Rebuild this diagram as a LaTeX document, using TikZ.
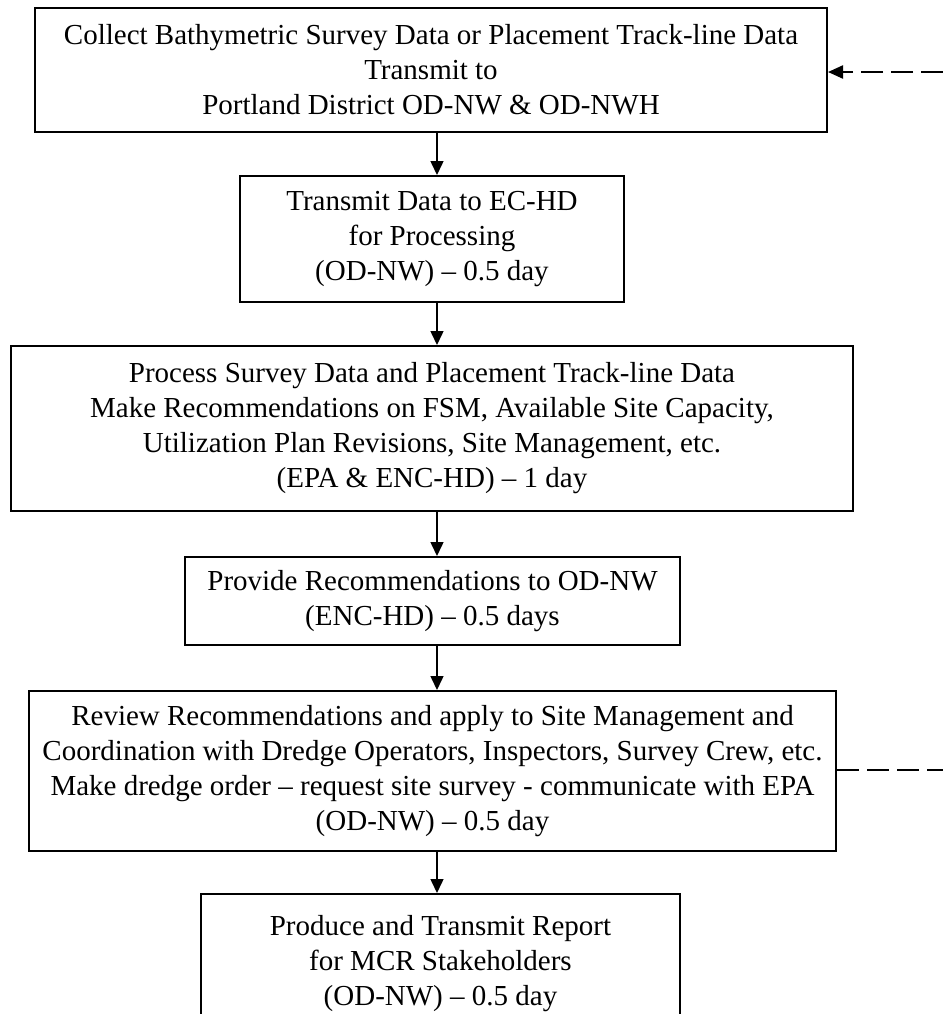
\documentclass[tikz,border=0pt]{standalone}
\usepackage{fontspec}
\setmainfont{Liberation Serif}
\usetikzlibrary{arrows.meta}

\tikzset{
  stepbox/.style={draw,line width=1pt,align=center,inner sep=0pt,
    font=\fontsize{14.5}{17.5}\selectfont},
  flow/.style={line width=0.75pt,-{Triangle[length=7pt,width=6.5pt]}},
  feedback/.style={line width=1.1pt,dash pattern=on 11pt off 4pt}
}

\begin{document}
\begin{tikzpicture}[x=0.5pt,y=-0.5pt]
\useasboundingbox (0,0) rectangle (943,1014);
\node[stepbox,minimum width=396pt,minimum height=62pt] (collect) at (431,70)
  {Collect Bathymetric Survey Data or Placement Track-line Data\\Transmit to\\Portland District OD-NW \& OD-NWH};
\node[stepbox,minimum width=192pt,minimum height=63pt] (transmit) at (432,239)
  {Transmit Data to EC-HD\\for Processing\\(OD-NW) – 0.5 day};
\node[stepbox,minimum width=421pt,minimum height=82.5pt] (process) at (432,428.5)
  {Process Survey Data and Placement Track-line Data\\Make Recommendations on FSM, Available Site Capacity,\\Utilization Plan Revisions, Site Management, etc.\\(EPA \& ENC-HD) – 1 day};
\node[stepbox,minimum width=247.5pt,minimum height=44pt] (provide) at (432.5,601)
  {Provide Recommendations to OD-NW\\(ENC-HD) – 0.5 days};
\node[stepbox,minimum width=403.5pt,minimum height=80pt] (review) at (432.5,771)
  {Review Recommendations and apply to Site Management and\\Coordination with Dredge Operators, Inspectors, Survey Crew, etc.\\Make dredge order – request site survey - communicate with EPA\\(OD-NW) – 0.5 day};
\node[stepbox,minimum width=239.5pt,minimum height=70pt] (report) at (440.5,964)
  {Produce and Transmit Report\\for MCR Stakeholders\\(OD-NW) – 0.5 day};
\coordinate (ax) at (437,0);
\draw[flow] (collect.south -| ax) -- (transmit.north -| ax);
\draw[flow] (transmit.south -| ax) -- (process.north -| ax);
\draw[flow] (process.south -| ax) -- (provide.north -| ax);
\draw[flow] (provide.south -| ax) -- (review.north -| ax);
\draw[flow] (review.south -| ax) -- (report.north -| ax);
\coordinate (topin) at (943,72);
\coordinate (botout) at (943,770);
\draw[feedback,-{Triangle[length=7.5pt,width=6.5pt]}] (topin) -- (topin -| collect.east);
\draw[feedback] (botout -| review.east) -- (botout);
\end{tikzpicture}
\end{document}
